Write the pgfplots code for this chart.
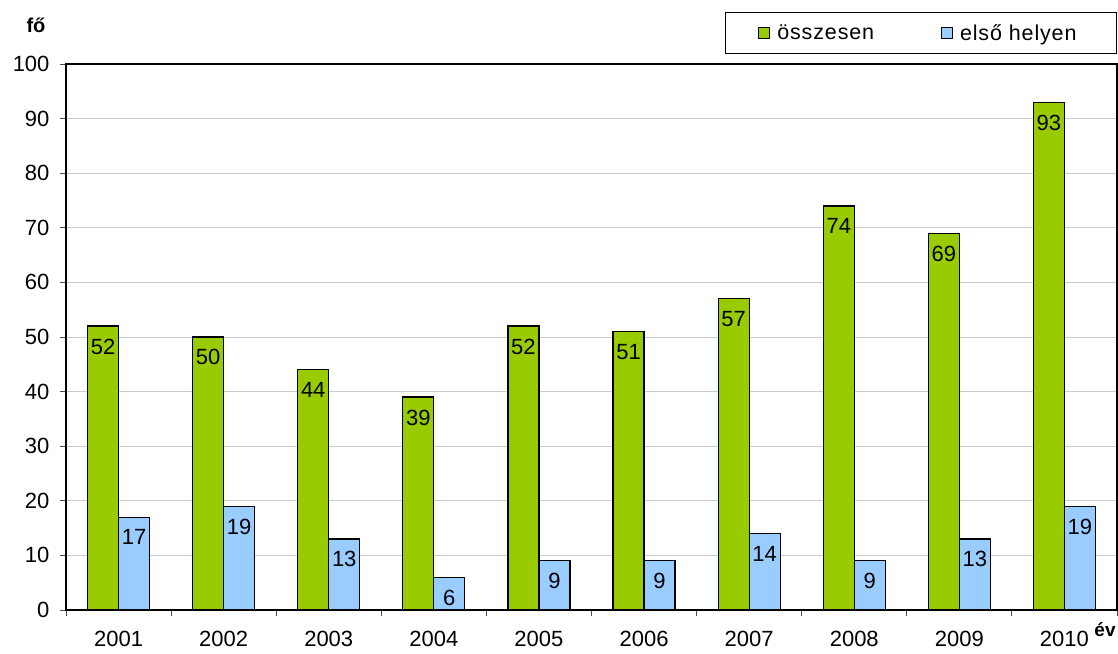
\documentclass[border=0pt]{standalone}
\usepackage{pgfplots}
\pgfplotsset{compat=1.18}
\usepackage{fontspec}
\setmainfont{Liberation Sans}
\newfontfamily\legfont[LetterSpace=4]{Liberation Sans}
\definecolor{osszgreen}{HTML}{99CC00}
\definecolor{elsoblue}{HTML}{99CCFF}
\newcommand{\lbl}{\fontsize{22}{25}\selectfont}
\begin{document}
\begin{tikzpicture}
\begin{axis}[
  name=ax,
  scale only axis,
  width=1051pt, height=546pt,
  ybar=0pt, bar width=31pt,
  xmin=-0.5, xmax=9.5,
  ymin=0, ymax=100,
  ytick={0,10,...,100},
  xtick={0,...,9},
  xticklabels={2001,2002,2003,2004,2005,2006,2007,2008,2009,2010},
  minor xtick={-0.5,0.5,...,9.5},
  major x tick style={draw=none},
  tick align=outside,
  xtick pos=left, ytick pos=left,
  major tick length=6pt, minor tick length=6pt,
  tick style={black!70, line width=0.9pt},
  axis line style={black, line width=1.2pt},
  ymajorgrids,
  grid style={draw=black!20, line width=0.8pt},
  /pgf/number format/assume math mode=true,
  ticklabel style={font=\lbl},
  yticklabel style={xshift=-7pt},
  xticklabel style={yshift=-12pt},
  nodes near coords,
  every node near coord/.append style={anchor=north, yshift=-11pt, font=\lbl, inner sep=1pt, black},
  legend columns=2,
  legend image code/.code={\draw[#1, draw=black, line width=0.9pt] (0pt,-5.5pt) rectangle (11pt,5.5pt);},
  legend style={at={(rel axis cs:1,1)}, anchor=south east, yshift=10pt,
    draw=black, line width=0.9pt, font=\fontsize{21.5}{24}\legfont,
    inner xsep=33pt, inner ysep=10pt,
    /tikz/every even column/.append style={column sep=60pt},
    nodes={inner xsep=7pt}},
  legend cell align=left,
]
\addplot[fill=osszgreen, draw=black, line width=1.2pt] coordinates {
  (0,52) (1,50) (2,44) (3,39) (4,52) (5,51) (6,57) (7,74) (8,69) (9,93)};
\addplot[fill=elsoblue, draw=black, line width=1.2pt] coordinates {
  (0,17) (1,19) (2,13) (3,6) (4,9) (5,9) (6,14) (7,9) (8,13) (9,19)};
\legend{összesen, első helyen}
\end{axis}
\node[font=\bfseries\fontsize{20}{24}\selectfont] at ([xshift=-30pt,yshift=39pt]ax.north west) {fő};
\node[font=\bfseries\fontsize{19}{22}\selectfont] at ([xshift=-12pt,yshift=-20pt]ax.south east) {év};
\pgfresetboundingbox
\path[use as bounding box] ([xshift=-66pt,yshift=-44pt]ax.south west) rectangle ([xshift=1pt,yshift=64pt]ax.north east);
\end{tikzpicture}
\end{document}
